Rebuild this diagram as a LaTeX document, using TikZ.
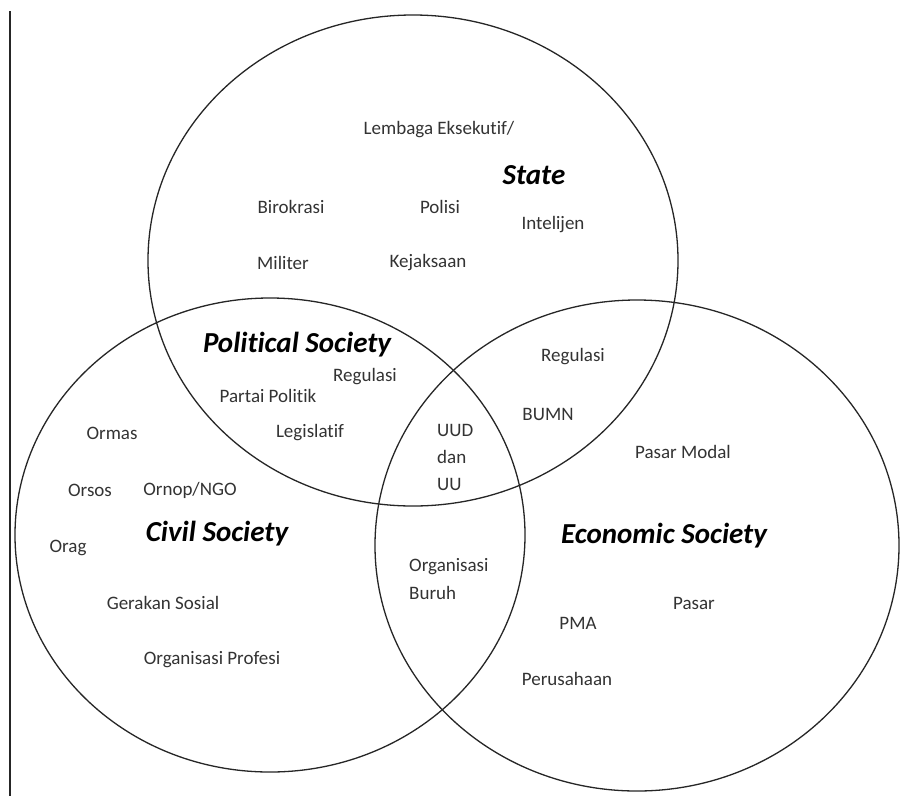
\documentclass[tikz,border=0pt]{standalone}
\usepackage{fontspec}
\setmainfont{Carlito}[Ligatures={NoCommon}]
\begin{document}
\begin{tikzpicture}[x=1pt,y=-1pt,
  ring/.style={draw=black!85, line width=1.3pt},
  lbl/.style={text=black!80, font=\fontsize{19}{23}\selectfont, inner sep=0pt},
  lblblock/.style={lbl, align=left, font=\fontsize{19}{27}\selectfont},
  title/.style={text=black, font=\fontsize{29}{33}\selectfont\bfseries\itshape, inner sep=0pt}]
\useasboundingbox (0,0) rectangle (902,796);
\fill[white] (0,0) rectangle (902,796);
% page border line
\draw[line width=2pt, black!85] (10,11) -- (10,796);
% circles
\draw[ring] (413,260.5) ellipse [x radius=265, y radius=245.5];
\draw[ring] (270,535) ellipse [x radius=255, y radius=237];
\draw[ring] (637,545.5) ellipse [x radius=262, y radius=245.5];
% State
\node[lbl] (lembaga) at (439,130) {Lembaga Eksekutif/};
\node[title] (state) at (534,175) {State};
\node[lbl] (birokrasi) at (291,207) {Birokrasi};
\node[lbl] (polisi) at (440,207) {Polisi};
\node[lbl] (intelijen) at (553,225) {Intelijen};
\node[lbl] (militer) at (283,263) {Militer};
\node[lbl] (kejaksaan) at (428,263) {Kejaksaan};
% Political Society
\node[title] (polsoc) at (297,345) {Political Society};
\node[lbl] (regpol) at (365,377) {Regulasi};
\node[lbl] (partai) at (268,396) {Partai Politik};
\node[lbl] (legislatif) at (310,433) {Legislatif};
% State-Economic
\node[lbl] (regeco) at (573,357) {Regulasi};
\node[lbl] (bumn) at (548,414) {BUMN};
% centre
\node[lblblock, anchor=west] (uud) at (437,457) {UUD\\dan\\UU};
% Civil-Economic
\node[lbl, align=left, font=\fontsize{19}{28}\selectfont, anchor=west] (buruh) at (409,579) {Organisasi\\Buruh};
% Civil Society
\node[lbl] (ormas) at (112,433) {Ormas};
\node[lbl] (orsos) at (90,490) {Orsos};
\node[lbl] (ornop) at (190,490) {Ornop/NGO};
\node[title] (civil) at (217,534) {Civil Society};
\node[lbl] (orag) at (68,548) {Orag};
\node[lbl] (gerakan) at (163,603) {Gerakan Sosial};
\node[lbl] (profesi) at (212,660) {Organisasi Profesi};
% Economic Society
\node[lbl] (pasarmodal) at (683,452) {Pasar Modal};
\node[title] (econ) at (664,536) {Economic Society};
\node[lbl] (pasar) at (694,603) {Pasar};
\node[lbl] (pma) at (578,623) {PMA};
\node[lbl] (perusahaan) at (567,679) {Perusahaan};
\end{tikzpicture}
\end{document}
